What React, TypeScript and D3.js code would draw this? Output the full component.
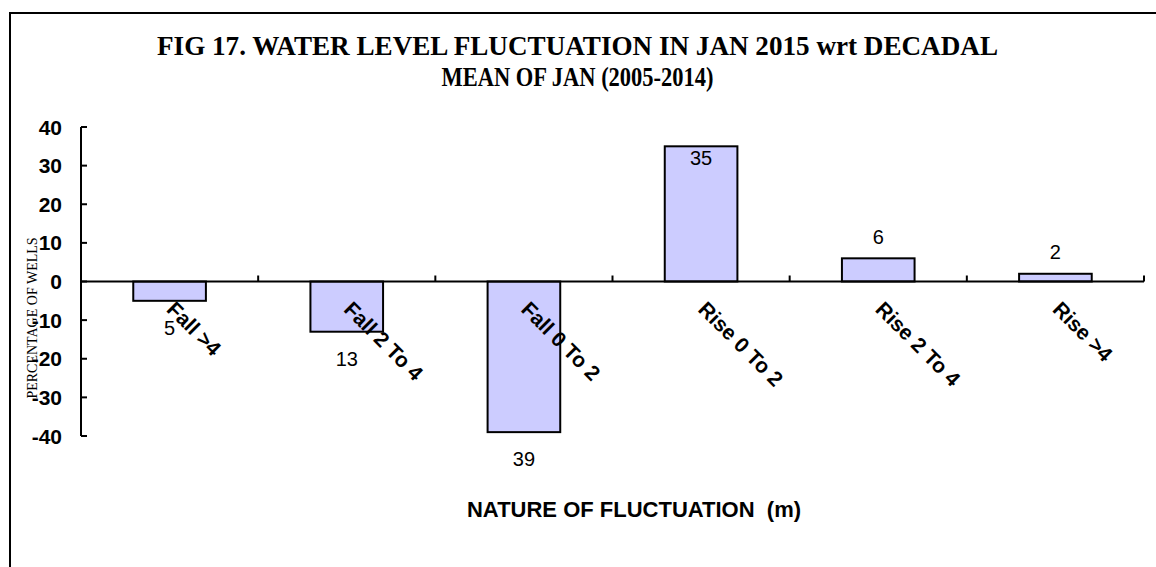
import React from "react";
import * as d3 from "d3";

const categories = ["Fall >4", "Fall 2 To 4", "Fall 0 To 2", "Rise 0 To 2", "Rise 2 To 4", "Rise >4"];
const percentages = [-5, -13, -39, 35, 6, 2];
const yTicks = [-40, -30, -20, -10, 0, 10, 20, 30, 40];

const W = 1156, H = 567;
const left = 81, right = 1144, top = 127, bottom = 436;
const sans = "'Liberation Sans', Arial, sans-serif";
const serif = "'Liberation Serif', 'Times New Roman', serif";

export default function App() {
  const x = d3.scaleBand<string>()
    .domain(categories)
    .range([left, right])
    .paddingInner(0.59)
    .paddingOuter(0.295);

  const y = d3.scaleLinear().domain([-40, 40]).range([bottom, top]);
  const y0 = y(0);
  const step = x.step();

  // data labels sit outside the bar end, unless no room at the top
  const labelY = (v: number) => {
    if (v >= 0) {
      const t = y(v) - 22;
      return t - 10 < top ? y(v) + 11 : t;
    }
    return y(v) + 27;
  };

  return (
    <svg width={W} height={H} style={{ position: "absolute", left: 0, top: 0, background: "#fff" }}>
      {/* outer frame, runs past the picture edge */}
      <rect x={10} y={13} width={W + 20} height={H + 20} fill="none" stroke="#000" strokeWidth={2} />

      <text fontFamily={serif} fontWeight="bold" fontSize={27} textAnchor="middle">
        <tspan x={577.5} y={55} textLength={841} lengthAdjust="spacingAndGlyphs">
          FIG 17. WATER LEVEL FLUCTUATION IN JAN 2015 wrt DECADAL
        </tspan>
        <tspan x={577.5} y={86} textLength={272} lengthAdjust="spacingAndGlyphs">
          MEAN OF JAN (2005-2014)
        </tspan>
      </text>

      {/* bars */}
      {percentages.map((v, i) => (
        <rect key={i}
          x={x(categories[i])}
          y={Math.min(y(v), y0)}
          width={x.bandwidth()}
          height={Math.abs(y(v) - y0)}
          fill="#CCCCFF" stroke="#000" strokeWidth={2} />
      ))}

      {/* y axis */}
      <line x1={left} x2={left} y1={top} y2={bottom} stroke="#000" strokeWidth={2} />
      {yTicks.map(t => (
        <g key={t}>
          <line x1={left} x2={left + 6} y1={y(t)} y2={y(t)} stroke="#000" strokeWidth={2} />
          <text x={62} y={y(t)} dy="0.36em" textAnchor="end"
            fontFamily={sans} fontWeight="bold" fontSize={21}>{t}</text>
        </g>
      ))}

      {/* x axis at zero */}
      <line x1={left} x2={right} y1={y0} y2={y0} stroke="#000" strokeWidth={2} />
      {categories.map((c, i) => (
        <line key={c} x1={left + step * (i + 1)} x2={left + step * (i + 1)} y1={y0} y2={y0 - 6} stroke="#000" strokeWidth={2} />
      ))}

      {/* category labels */}
      {categories.map(c => {
        const cx = (x(c) as number) + x.bandwidth() / 2 - 4;
        return (
          <text key={c} transform={`translate(${cx},${y0 + 29}) rotate(45)`}
            fontFamily={sans} fontWeight="bold" fontSize={21}>{c}</text>
        );
      })}

      {/* value labels */}
      {percentages.map((v, i) => (
        <text key={i} x={(x(categories[i]) as number) + x.bandwidth() / 2} y={labelY(v)} dy="0.36em"
          textAnchor="middle" fontFamily={sans} fontSize={20}>
          {Math.abs(v)}
        </text>
      ))}

      <text transform={`translate(37,318) rotate(-90)`} textAnchor="middle"
        fontFamily={serif} fontSize={14}>PERCENTAGE OF WELLS</text>

      <text x={634} y={517} textAnchor="middle" style={{ whiteSpace: "pre" }}
        fontFamily={sans} fontWeight="bold" fontSize={22}>NATURE OF FLUCTUATION  (m)</text>
    </svg>
  );
}
